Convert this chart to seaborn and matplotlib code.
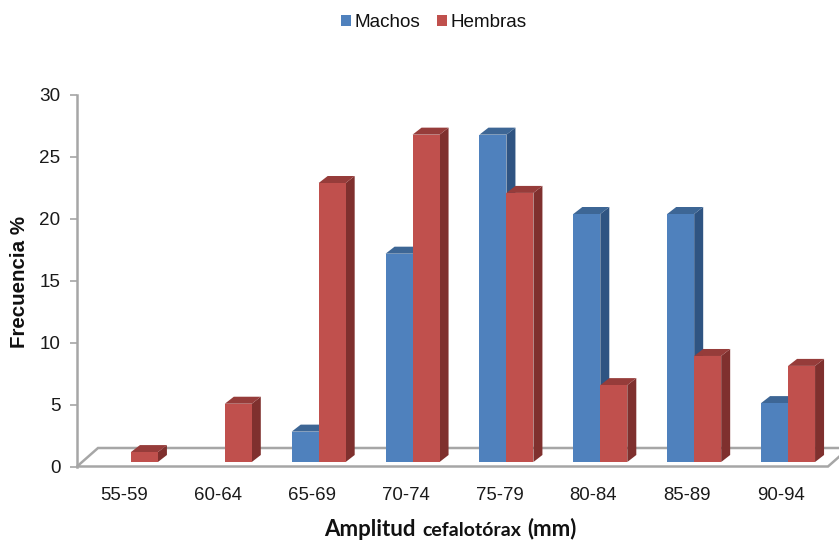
import pandas as pd
import matplotlib.pyplot as plt
import seaborn as sns
from matplotlib.patches import Polygon, Rectangle

# valores
rangos = ['55-59', '60-64', '65-69', '70-74', '75-79', '80-84', '85-89', '90-94']
machos = [0, 0, 2.45, 16.8, 26.4, 20.0, 20.0, 4.75]
hembras = [0.8, 4.7, 22.5, 26.4, 21.7, 6.2, 8.55, 7.75]

sns.set_theme(style='white')
plt.rcParams['font.family'] = ['Liberation Sans', 'DejaVu Sans']

df = pd.DataFrame({
    'rango': rangos * 2,
    'frecuencia': machos + hembras,
    'sexo': ['Machos'] * len(rangos) + ['Hembras'] * len(rangos),
})

colores = {'Machos': '#4F81BD', 'Hembras': '#C0504D'}
tapas = {'Machos': '#3D6695', 'Hembras': '#963C3A'}
lados = {'Machos': '#2F5482', 'Hembras': '#7F302E'}

W, H = 839, 542
fig = plt.figure(figsize=(W / 100, H / 100), dpi=100)
ax = fig.add_axes([77 / W, 1 - 466.5 / H, 751 / W, 372 / H])

sns.barplot(data=df, x='rango', y='frecuencia', hue='sexo', order=rangos,
            palette=colores, width=0.575, saturation=1, legend=False, ax=ax,
            errorbar=None, linewidth=0)

ax.set_xlim(-0.5, 7.5)
ax.set_ylim(0, 30)
ux = 8 / 751   # categorias por px
uy = 30 / 372  # unidades de y por px
prof_x, prof_y = 9 * ux, 7 * uy

# piso en perspectiva
x0, x1 = -0.5, 7.5
fx, fy = 21 * ux, 18.5 * uy
gris = '#A6A6A6'
piso = Polygon([(x0, 0), (x0 + fx, fy), (x1 + fx, fy), (x1, 0)], closed=True,
               facecolor='white', edgecolor=gris, lw=1.8, clip_on=False, zorder=1)
ax.add_patch(piso)

# caras laterales y superiores de cada barra
for cont, sexo in zip(ax.containers, ['Machos', 'Hembras']):
    for b in cont:
        h = b.get_height()
        if not h:
            b.set_visible(False)
            continue
        b.set_x(b.get_x() + 7 * ux)
        b.set_y(4.5 * uy)
        b.set_clip_on(False)
        xa, xb = b.get_x(), b.get_x() + b.get_width()
        ya, yb = b.get_y(), b.get_y() + h
        z = 2.5 if sexo == 'Machos' else 3.5
        b.set_zorder(z)
        ax.add_patch(Polygon([(xb, ya), (xb + prof_x, ya + prof_y),
                              (xb + prof_x, yb + prof_y), (xb, yb)],
                             facecolor=lados[sexo], lw=0, zorder=z - 0.2, clip_on=False))
        ax.add_patch(Polygon([(xa, yb), (xa + prof_x, yb + prof_y),
                              (xb + prof_x, yb + prof_y), (xb, yb)],
                             facecolor=tapas[sexo], lw=0, zorder=z - 0.1, clip_on=False))

sns.despine(ax=ax)
ax.spines['left'].set_color(gris)
ax.spines['left'].set_linewidth(1.8)
ax.spines['bottom'].set_visible(False)

ax.set_yticks(range(0, 31, 5))
ax.tick_params(axis='y', left=True, length=5, width=1.2, color=gris, pad=7,
               labelsize=13.6, labelcolor='#1a1a1a')
ax.tick_params(axis='x', bottom=False, pad=9, labelsize=13.4, labelcolor='#1a1a1a')
ax.set_xlabel('')
ax.set_ylabel('')

# titulos de ejes
fig.text(20 / W, 1 - 281.5 / H, 'Frecuencia %', rotation=90, ha='center', va='center',
         fontsize=14.8, fontweight='bold', color='#111111')
fig.text(324 / W, 1 - 535.5 / H, 'Amplitud', ha='left', va='baseline', family='Lato',
         fontsize=16, fontweight='bold', color='#111111')
fig.text(422 / W, 1 - 535.5 / H, 'cefalotórax', ha='left', va='baseline', family='Lato',
         fontsize=14, fontweight='bold', color='#111111')
fig.text(527 / W, 1 - 535.5 / H, '(mm)', ha='left', va='baseline', family='Lato',
         fontsize=16, fontweight='bold', color='#111111')

# leyenda
for x, sexo, xt in [(341, 'Machos', 355), (437, 'Hembras', 451)]:
    fig.add_artist(Rectangle((x / W, 1 - 26 / H), 10 / W, 10.5 / H, transform=fig.transFigure,
                             facecolor=colores[sexo], lw=0))
    fig.text(xt / W, 1 - 27 / H, sexo, ha='left', va='baseline', fontsize=13.6, color='#111111')

plt.savefig('out.png', dpi=100)
